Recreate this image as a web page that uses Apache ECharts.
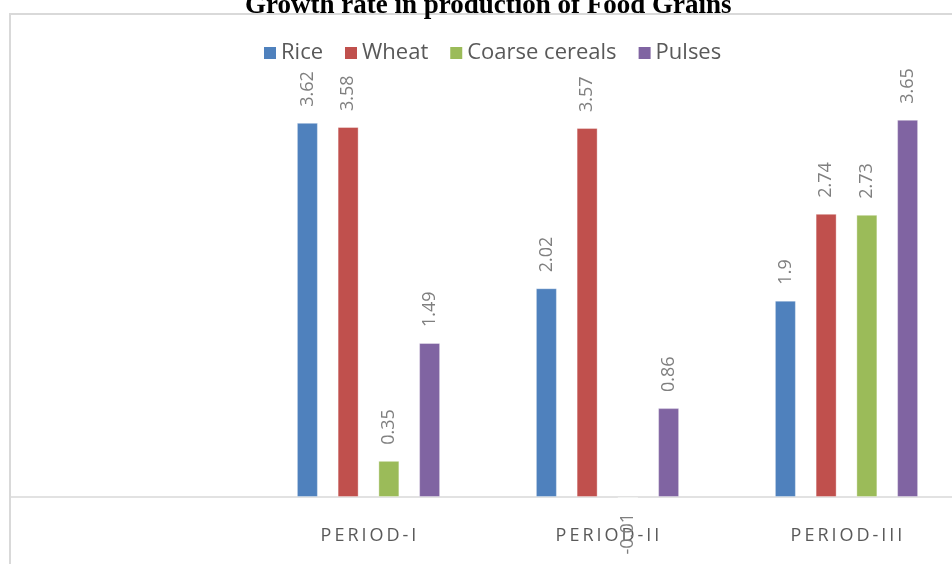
<!DOCTYPE html>
<html>
<head>
<meta charset="utf-8">
<title>Growth rate in production of Food Grains</title>
<script src="https://cdn.jsdelivr.net/npm/echarts@6/dist/echarts.min.js"></script>
<style>
  html, body { margin: 0; padding: 0; background: #fff; }
  #chart { width: 952px; height: 564px; }
</style>
</head>
<body>
<div id="chart"></div>
<script>
// chart data
const categories = ['', 'PERIOD-I', 'PERIOD-II', 'PERIOD-III']
const seriesNames = ['Rice', 'Wheat', 'Coarse cereals', 'Pulses']
const rice = [null, 3.62, 2.02, 1.9]
const wheat = [null, 3.58, 3.57, 2.74]
const coarseCereals = [null, 0.35, -0.01, 2.73]
const pulses = [null, 1.49, 0.86, 3.65]
const colors = ['#4f81bd', '#c0504d', '#9bbb59', '#8064a2']

const chart = echarts.init(document.getElementById('chart'))

// one bar series, negative values get their label below the bar
const makeSeries = (name, values, color) => ({
  name,
  type: 'bar',
  data: values.map(v => (v !== null && v < 0)
    ? { value: v, label: { position: 'bottom', align: 'right', distance: 15 } }
    : v),
  barWidth: 21,
  barGap: '94%',
  clip: false,
  itemStyle: { color, borderColor: 'rgba(255,255,255,0.35)', borderWidth: 1 },
  label: {
    show: true,
    position: 'top',
    rotate: 90,
    align: 'left',
    verticalAlign: 'middle',
    distance: 16,
    color: '#7f7f7f',
    fontFamily: 'Open Sans',
    fontSize: 18
  }
})

const option = {
  animation: false,
  title: {
    text: 'Growth rate in production of Food Grains',
    left: 245,
    top: -7,
    padding: 0,
    textStyle: { fontFamily: 'Liberation Serif', fontWeight: 'bold', fontSize: 27, color: '#000' }
  },
  graphic: [
    {
      type: 'rect',
      shape: { x: 10, y: 14, width: 980, height: 600 },
      style: { fill: null, stroke: '#d9d9d9', lineWidth: 2 },
      silent: true
    }
  ],
  legend: {
    data: seriesNames,
    left: 264,
    top: 42,
    padding: 0,
    icon: 'rect',
    itemWidth: 12,
    itemHeight: 12,
    itemGap: 22,
    itemStyle: { borderWidth: 0 },
    textStyle: { fontFamily: 'Open Sans', fontSize: 22, color: '#595959' }
  },
  // plot area runs past the right edge of the picture
  grid: {
    left: 10,
    width: 956,
    top: 83.6,
    bottom: 67,
    outerBoundsMode: 'none'
  },
  xAxis: {
    type: 'category',
    data: categories,
    axisTick: { show: false },
    axisLine: { lineStyle: { color: '#d9d9d9', width: 1.5 } },
    axisLabel: {
      color: '#595959',
      fontFamily: 'Open Sans',
      fontSize: 18,
      margin: 30,
      formatter: v => v.split('').join('\u2009')
    }
  },
  yAxis: {
    type: 'value',
    min: 0,
    max: 4,
    show: false
  },
  series: [
    makeSeries(seriesNames[0], rice, colors[0]),
    makeSeries(seriesNames[1], wheat, colors[1]),
    makeSeries(seriesNames[2], coarseCereals, colors[2]),
    makeSeries(seriesNames[3], pulses, colors[3])
  ]
}

chart.setOption(option)
</script>
</body>
</html>
